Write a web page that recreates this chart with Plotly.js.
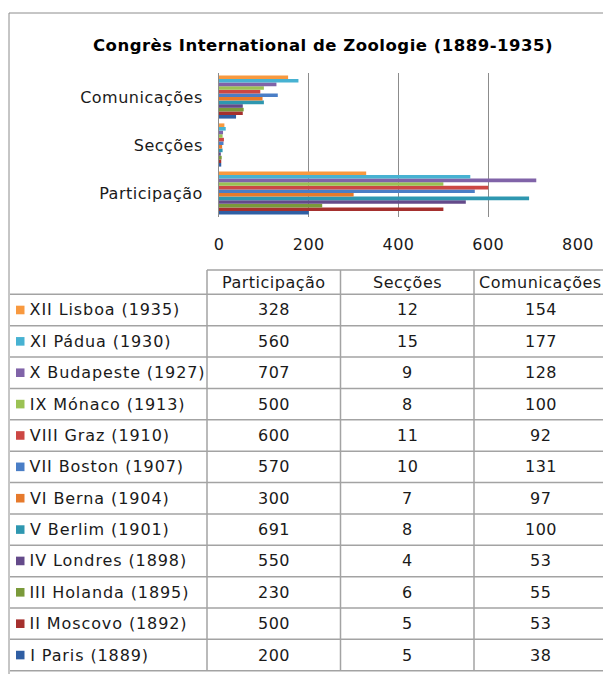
<!DOCTYPE html>
<html>
<head>
<meta charset="utf-8">
<script src="https://cdn.plot.ly/plotly-3.0.1.min.js"></script>
<style>
html,body{margin:0;padding:0;background:#fff;}
#chart{width:603px;height:674px;}
text{letter-spacing:0.5px;}
</style>
</head>
<body>
<div id="chart"></div>
<script>
// ---- data (chronological order, I .. XII) ----
var congresses = ['I Paris (1889)', 'II Moscovo (1892)', 'III Holanda (1895)', 'IV Londres (1898)',
  'V Berlim (1901)', 'VI Berna (1904)', 'VII Boston (1907)', 'VIII Graz (1910)',
  'IX Mónaco (1913)', 'X Budapeste (1927)', 'XI Pádua (1930)', 'XII Lisboa (1935)'];
var participacao = [200, 500, 230, 550, 691, 300, 570, 600, 500, 707, 560, 328];
var seccoes = [5, 5, 6, 4, 8, 7, 10, 11, 8, 9, 15, 12];
var comunicacoes = [38, 53, 55, 53, 100, 97, 131, 92, 100, 128, 177, 154];
var categories = ['Participação', 'Secções', 'Comunicações'];
var xTicks = [0, 200, 400, 600, 800];
var colors = ['#2F5EA3', '#A5302E', '#7A9A3A', '#644A8A', '#2E97B0', '#E67A2C',
  '#4A7EC6', '#CC4744', '#9BC254', '#8063A8', '#47B2D2', '#F8993F'];
var titleText = 'Congrès International de Zoologie (1889-1935)';

// ---- geometry ----
var W = 603, H = 674;
var ml = 219, mr = 25, mt = 73, mb = 457;
var pw = W - ml - mr, ph = H - mt - mb;
function px(x) { return (x - ml) / pw; }
function py(y) { return (H - mb - y) / ph; }

var FONT = 'DejaVu Sans, sans-serif';
var TXT = '#1a1a1a';
var FS = 16;

var traces = congresses.map(function (name, i) {
  return {
    type: 'bar', orientation: 'h', name: name,
    y: categories,
    x: [participacao[i], seccoes[i], comunicacoes[i]],
    marker: { color: colors[i], line: { width: 0 } },
    hoverinfo: 'x+name', showlegend: false
  };
});

// ---- table ----
var shapes = [], annotations = [];
var lineCol = '#A3A3A3';
var colX = [10, 207, 340.5, 474, 607];
var headerTop = 270, headerBot = 294.3, rowH = 31.37;
var nRows = congresses.length;
var tableBot = headerBot + rowH * nRows;

// outer frame
shapes.push({ type: 'rect', xref: 'paper', yref: 'paper', x0: px(9), x1: px(610), y0: py(13), y1: py(680),
  line: { color: '#8C8C8C', width: 1 }, fillcolor: 'rgba(0,0,0,0)', layer: 'above' });

// header top line
shapes.push({ type: 'line', xref: 'paper', yref: 'paper', x0: px(colX[1]), x1: px(610), y0: py(headerTop), y1: py(headerTop),
  line: { color: lineCol, width: 1.5 } });
// row lines
for (var r = 0; r <= nRows; r++) {
  var yy = headerBot + rowH * r;
  shapes.push({ type: 'line', xref: 'paper', yref: 'paper', x0: px(colX[0]), x1: px(610), y0: py(yy), y1: py(yy),
    line: { color: lineCol, width: 1.5 } });
}
// vertical lines
for (var c = 1; c <= 3; c++) {
  shapes.push({ type: 'line', xref: 'paper', yref: 'paper', x0: px(colX[c]), x1: px(colX[c]), y0: py(headerTop), y1: py(tableBot),
    line: { color: lineCol, width: 1.5 } });
}

// header labels
categories.forEach(function (cat, c) {
  annotations.push({ xref: 'paper', yref: 'paper', x: px((colX[c + 1] + colX[c + 2]) / 2), y: py((headerTop + headerBot) / 2),
    text: cat, showarrow: false, xanchor: 'center', yanchor: 'middle', font: { family: FONT, size: FS, color: TXT } });
});

// rows (most recent first)
var cols = [participacao, seccoes, comunicacoes];
for (var k = 0; k < nRows; k++) {
  var i = nRows - 1 - k;
  var cy = headerBot + rowH * (k + 0.5);
  shapes.push({ type: 'rect', xref: 'paper', yref: 'paper', x0: px(16), x1: px(24.5), y0: py(cy - 4.3), y1: py(cy + 4.3),
    fillcolor: colors[i], line: { width: 0 } });
  annotations.push({ xref: 'paper', yref: 'paper', x: px(30.5), y: py(cy), text: congresses[i], showarrow: false,
    xanchor: 'left', yanchor: 'middle', font: { family: FONT, size: FS, color: TXT } });
  for (var c2 = 0; c2 < 3; c2++) {
    annotations.push({ xref: 'paper', yref: 'paper', x: px((colX[c2 + 1] + colX[c2 + 2]) / 2), y: py(cy),
      text: String(cols[c2][i]), showarrow: false, xanchor: 'center', yanchor: 'middle',
      font: { family: FONT, size: FS, color: TXT } });
  }
}

var layout = {
  width: W, height: H, autosize: false,
  margin: { l: ml, r: mr, t: mt, b: mb, pad: 0 },
  paper_bgcolor: '#ffffff', plot_bgcolor: '#ffffff',
  title: { text: '<b>' + titleText + '</b>', xref: 'paper', x: px(323), xanchor: 'center',
    yref: 'container', y: 1 - 45 / H, yanchor: 'middle',
    font: { family: FONT, size: 16.5, color: '#000000' } },
  barmode: 'group', bargap: 0.1, bargroupgap: 0,
  xaxis: { range: [0, 800], tickvals: xTicks, ticktext: xTicks.map(String), showgrid: true,
    gridcolor: '#8C8C8C', gridwidth: 1, zeroline: false, showline: false, ticks: '',
    ticklabelstandoff: 16, tickfont: { family: FONT, size: FS, color: TXT }, fixedrange: true },
  yaxis: { type: 'category', categoryarray: categories, categoryorder: 'array', showgrid: false,
    showline: true, linecolor: '#8C8C8C', linewidth: 1, ticks: '', zeroline: false,
    ticklabelstandoff: 12, tickfont: { family: FONT, size: FS, color: TXT }, fixedrange: true },
  shapes: shapes, annotations: annotations
};

Plotly.newPlot('chart', traces, layout, { displayModeBar: false, staticPlot: true }).then(function (gd) {
  // row labels in the data table use slightly looser spacing
  var nodes = gd.querySelectorAll('.annotation-text');
  nodes.forEach(function (n) {
    if (congresses.indexOf(n.textContent) >= 0) n.style.letterSpacing = '0.9px';
  });
});
</script>
</body>
</html>
